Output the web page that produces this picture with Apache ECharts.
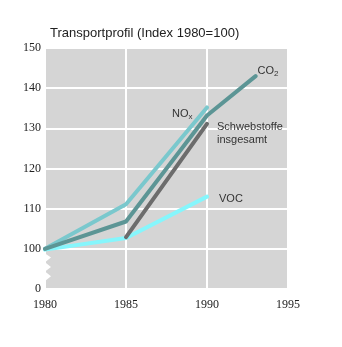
<!DOCTYPE html>
<html>
<head>
<meta charset="utf-8">
<script src="https://cdn.jsdelivr.net/npm/echarts@6/dist/echarts.min.js"></script>
<style>
html,body{margin:0;padding:0;background:#fff;}
#chart{width:342px;height:347px;}
</style>
</head>
<body>
<div id="chart"></div>
<script>
// Years on the x axis and index values (1980 = 100)
var years = [1980, 1985, 1990, 1993];
var co2 = [100, 106.8, 133.2, 143];
var nox = [100, 111.1, 135.2];
var schwebstoffe = [null, 102.9, 131.1];
var voc = [99.8, 102.7, 113];
var xTicks = [1980, 1985, 1990, 1995];
var yTicks = [0, 100, 110, 120, 130, 140, 150];

// The value axis is broken below 100: the bottom tick stands for 0.
var AXIS_FLOOR = 90;

function pairs(vals) {
  var out = [];
  for (var i = 0; i < vals.length; i++) {
    if (vals[i] !== null) out.push([years[i], vals[i]]);
  }
  return out;
}

var serifLabel = { fontFamily: 'Liberation Serif, serif', fontSize: 12, color: '#222' };
var sansFamily = 'Liberation Sans, Arial, sans-serif';
var subStyle = { fontSize: 8, verticalAlign: 'bottom', padding: [6, 0, 0, 0], fontFamily: sansFamily, color: '#333' };

function series(name, vals, color, label) {
  return {
    name: name, type: 'line', data: pairs(vals), symbol: 'none',
    lineStyle: { color: color, width: 4, cap: 'round' },
    endLabel: {
      show: true, formatter: label.text, rich: label.rich,
      offset: label.offset, align: 'left', verticalAlign: 'middle',
      fontFamily: sansFamily, fontSize: 11, color: '#333',
      lineHeight: 13
    },
    silent: true, animation: false
  };
}

var chart = echarts.init(document.getElementById('chart'));
chart.setOption({
  animation: false,
  title: {
    text: 'Transportprofil (Index 1980=100)',
    left: 45, top: 22,
    textStyle: { fontFamily: sansFamily, fontSize: 13, fontWeight: 'normal', color: '#222' }
  },
  grid: { left: 45, right: 54, top: 48, bottom: 58, show: true, backgroundColor: '#d5d5d5', borderWidth: 0 },
  xAxis: {
    type: 'value', min: xTicks[0], max: xTicks[xTicks.length - 1], interval: 5,
    axisLine: { show: false }, axisTick: { show: false },
    axisLabel: Object.assign({ margin: 10, formatter: function (v) { return String(v); } }, serifLabel),
    splitLine: { show: true, lineStyle: { color: '#fff', width: 2 } }
  },
  yAxis: {
    type: 'value', min: AXIS_FLOOR, max: yTicks[yTicks.length - 1], interval: 10,
    axisLine: { show: false }, axisTick: { show: false },
    axisLabel: Object.assign({
      margin: 4,
      formatter: function (v) { return v === AXIS_FLOOR ? String(yTicks[0]) : String(v); }
    }, serifLabel),
    splitLine: { show: true, lineStyle: { color: '#fff', width: 2 } }
  },
  series: [
    series('VOC', voc, '#86f6fc', { text: 'VOC', offset: [4, 2] }),
    series('Schwebstoffe insgesamt', schwebstoffe, '#6c6c6c', { text: 'Schwebstoffe\ninsgesamt', offset: [2, 10] }),
    series('NOx', nox, '#7ac8cd', { text: 'NO{s|x}', offset: [-43, 7], rich: { s: subStyle } }),
    series('CO2', co2, '#5c9595', { text: 'CO{s|2}', offset: [-6, -5], rich: { s: subStyle } })
  ]
});

// Zigzag notch on the left edge marks the break between 0 and 100
function drawBreak() {
  var top = chart.convertToPixel({ gridIndex: 0 }, [xTicks[0], 99]);
  var bottom = chart.convertToPixel({ gridIndex: 0 }, [xTicks[0], 92]);
  var x0 = top[0], y0 = top[1], y1 = bottom[1];
  var teeth = 3, step = (y1 - y0) / teeth, depth = 6;
  var pts = [[x0 - 1, y0]];
  for (var i = 0; i < teeth; i++) {
    pts.push([x0 + depth, y0 + step * (i + 0.5)]);
    pts.push([x0, y0 + step * (i + 1)]);
  }
  pts.push([x0 - 1, y1]);
  chart.setOption({
    graphic: [{ type: 'polygon', shape: { points: pts }, style: { fill: '#fff' }, z: 100, silent: true }]
  });
}
drawBreak();
</script>
</body>
</html>
